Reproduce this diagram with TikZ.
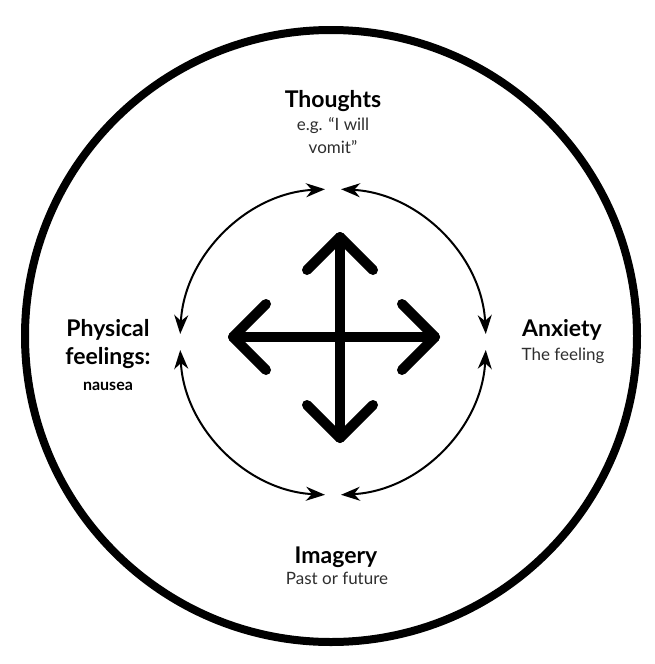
\documentclass[tikz,border=0pt]{standalone}
\usepackage{fontspec}
\setmainfont{Lato}
\usetikzlibrary{arrows.meta}
\definecolor{subgray}{HTML}{2E2E2E}
\tikzset{
	heading/.style={font=\fontsize{23}{25}\selectfont\bfseries, anchor=base, inner sep=0pt},
	subline/.style={font=\fontsize{17}{19}\selectfont, text=subgray, anchor=base, inner sep=0pt},
	cyc/.style={line width=2pt, {Stealth[length=19pt,width=14pt,inset=6pt]}-{Stealth[length=19pt,width=14pt,inset=6pt]}},
	cross/.style={line width=10pt, line cap=round, line join=round},
}

\begin{document}
\begin{tikzpicture}[x=1pt,y=1pt]
	\useasboundingbox (0,0) rectangle (655,-664);
	\draw [line width=8pt] (331,-336) circle [radius=306];
	\coordinate (ring) at (333,-342);
	\foreach \a in {0,90,180,270}
		\draw [cyc] (ring) ++(\a+3:153) arc [start angle=\a+3, end angle=\a+87, radius=153];
	\coordinate (up) at (340,-237);
	\coordinate (down) at (340,-438);
	\coordinate (left) at (233,-337);
	\coordinate (right) at (435,-337);
	\draw [cross] (up) -- (down) (left) -- (right);
	\draw [cross] (up) ++(-33,-33) -- (up) -- ++(33,-33);
	\draw [cross] (down) ++(-33,33) -- (down) -- ++(33,33);
	\draw [cross] (left) ++(33,33) -- (left) -- ++(33,-33);
	\draw [cross] (right) ++(-33,33) -- (right) -- ++(-33,-33);
	\node [heading] (thoughts) at (333,-107) {Thoughts};
	\node [subline] (thoughtsa) at (333,-130) {e.g. “I will};
	\node [subline] (thoughtsb) at (333,-153) {vomit”};
	\node [heading] (physical) at (108,-336) {Physical};
	\node [heading] (feelings) at (108,-364) {feelings:};
	\node [heading, font=\fontsize{16}{18}\selectfont\bfseries] (nausea) at (108,-390) {nausea};
	\node [heading] (anxiety) at (562,-336) {Anxiety};
	\node [subline] (anxietya) at (563,-360) {The feeling};
	\node [heading] (imagery) at (336,-563) {Imagery};
	\node [subline] (imagerya) at (337,-584) {Past or future};
\end{tikzpicture}
\end{document}
